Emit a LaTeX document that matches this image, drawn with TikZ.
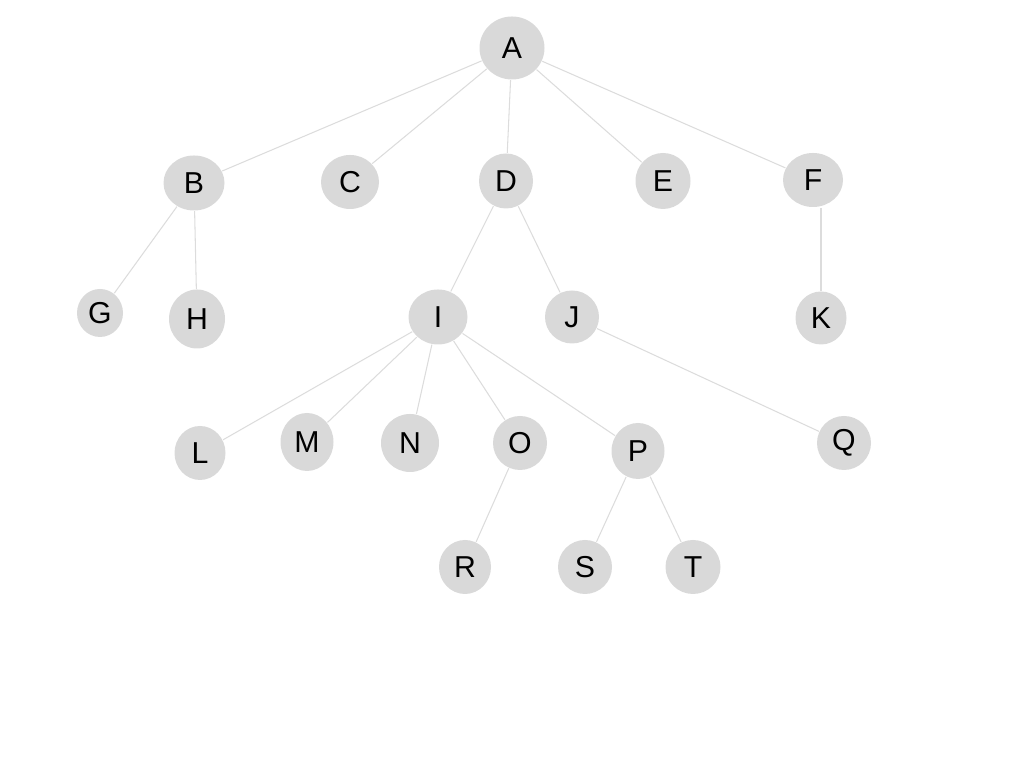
\documentclass[tikz,border=0pt]{standalone}
\usepackage{fontspec}
\setmainfont{Liberation Sans}
\usetikzlibrary{shapes.geometric}
\definecolor{vertexgray}{HTML}{D9D9D9}
\definecolor{edgegray}{HTML}{DCDCDC}
\tikzset{
    vertex/.style = {ellipse, fill=vertexgray, inner sep=0pt, font=\fontsize{8.6}{10}\selectfont},
    edge/.style = {draw=edgegray, line width=0.3pt}
}
\begin{document}
\begin{tikzpicture}[x=0.01cm, y=-0.01cm]
        \useasboundingbox (0,0) rectangle (1024,768);
        \foreach \n/\x/\y/\w/\h in {A/512/48/65/63, B/194/183/61/55, C/350/182/58/54, D/506/181/54/55,
            E/663/181/55/56, F/813/180/60/54, G/100/313/46/48, H/197/319/56/59, I/438/317/59/55,
            J/572/317/54/53, K/821/318/51/53, L/200/453/51/54, M/307/442/53/58, N/410/443/58/58,
            O/520/443/54/54, P/638/451/53/56, Q/844/443/54/54, R/465/567/52/54, S/585/567/54/54,
            T/693/567/55/54}
            \node[vertex, minimum width=\w*0.01cm, minimum height=\h*0.01cm] (\n) at (\x, \y) {\n};
        \foreach \a/\b in {A/B, A/C, A/D, A/E, A/F, B/G, B/H, D/I, D/J,
            I/L, I/M, I/N, I/O, I/P, J/Q, O/R, P/S, P/T}
            \draw[edge] (\a) -- (\b);
        \draw[edge] (K.north) -- (K.north |- F.south);
    \end{tikzpicture}
\end{document}
